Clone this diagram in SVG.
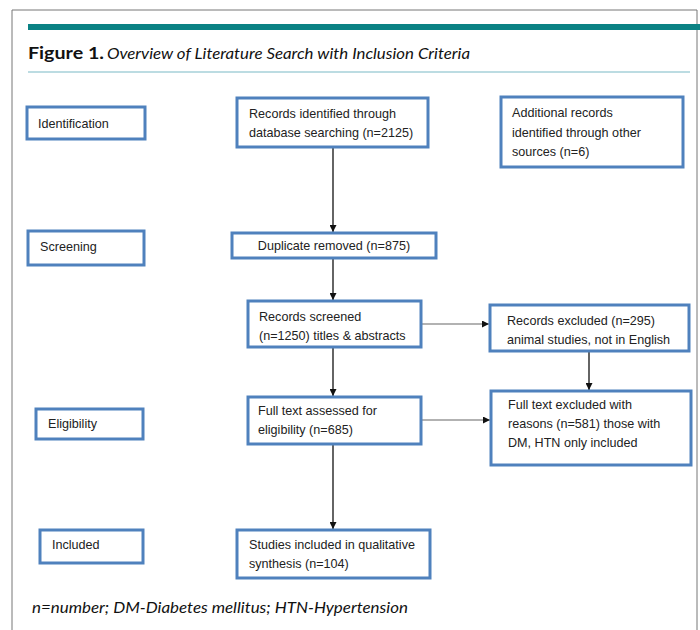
<svg xmlns="http://www.w3.org/2000/svg" width="700" height="630" viewBox="0 0 700 630">
<style>
.box{fill:#fff;stroke:#4f81bd;stroke-width:3}
.t{font-family:"Liberation Sans",Arial,sans-serif;font-size:12.6px;fill:#222}
.c{stroke:#111;stroke-width:1.3;fill:none}
.g{stroke:#666;stroke-width:1.2;fill:none}
</style>
<defs>
<marker id="ah" viewBox="0 0 10 10" refX="10" refY="5" markerWidth="7" markerHeight="7" orient="auto" markerUnits="userSpaceOnUse">
<path d="M0,0 L10,5 L0,10 z" fill="#111"/>
</marker>
</defs>
<rect x="0" y="0" width="700" height="630" fill="#fff"/>
<path d="M12,630 V10 H697 V630" fill="none" stroke="#777" stroke-width="1"/>
<rect x="28" y="24" width="672" height="6" fill="#0b8284"/>
<text x="28" y="59" font-family="Lato,'Open Sans',sans-serif" font-size="17.5" font-weight="bold" fill="#111" textLength="76" lengthAdjust="spacingAndGlyphs">Figure 1.</text>
<text x="107" y="59" font-family="Lato,'Open Sans',sans-serif" font-size="16" font-style="italic" fill="#111" textLength="363" lengthAdjust="spacingAndGlyphs">Overview of Literature Search with Inclusion Criteria</text>
<rect x="28" y="71" width="662" height="2" fill="#bcdce2"/>

<g id="connectors">
<line class="c" x1="333" y1="147" x2="333" y2="232" marker-end="url(#ah)"/>
<line class="c" x1="333" y1="258" x2="333" y2="300" marker-end="url(#ah)"/>
<line class="c" x1="333" y1="347" x2="333" y2="396" marker-end="url(#ah)"/>
<line class="c" x1="333" y1="444" x2="333" y2="529" marker-end="url(#ah)"/>
<line class="g" x1="421" y1="324" x2="489" y2="324" marker-end="url(#ah)"/>
<line class="g" x1="421" y1="420" x2="490" y2="420" marker-end="url(#ah)"/>
<line class="c" x1="589" y1="351" x2="589" y2="390" marker-end="url(#ah)"/>
</g>

<g id="identification"><rect class="box" x="27" y="107" width="118" height="32"/><text class="t" x="38" y="128">Identification</text></g>
<g id="records-identified"><rect class="box" x="237" y="98" width="191" height="49"/><text class="t" x="249" y="118">Records identified through</text><text class="t" x="249" y="137">database searching (n=2125)</text></g>
<g id="additional-records"><rect class="box" x="501" y="97" width="182" height="70"/><text class="t" x="512" y="117">Additional records</text><text class="t" x="512" y="137">identified through other</text><text class="t" x="512" y="156">sources (n=6)</text></g>
<g id="screening"><rect class="box" x="28" y="231" width="116" height="34"/><text class="t" x="40" y="251">Screening</text></g>
<g id="duplicate-removed"><rect class="box" x="232" y="233" width="204" height="25"/><text class="t" x="334" y="250" text-anchor="middle">Duplicate removed (n=875)</text></g>
<g id="records-screened"><rect class="box" x="248" y="301" width="173" height="46"/><text class="t" x="259" y="321">Records screened</text><text class="t" x="259" y="340">(n=1250) titles &amp; abstracts</text></g>
<g id="records-excluded"><rect class="box" x="490" y="305" width="199" height="46"/><text class="t" x="507" y="325">Records excluded (n=295)</text><text class="t" x="507" y="344">animal studies, not in English</text></g>
<g id="eligibility"><rect class="box" x="36" y="409" width="107" height="30"/><text class="t" x="48" y="428">Eligibility</text></g>
<g id="full-text-assessed"><rect class="box" x="248" y="397" width="173" height="47"/><text class="t" x="258" y="415">Full text assessed for</text><text class="t" x="258" y="434">eligibility (n=685)</text></g>
<g id="full-text-excluded"><rect class="box" x="491" y="391" width="200" height="74"/><text class="t" x="508" y="409">Full text excluded with</text><text class="t" x="508" y="428">reasons (n=581) those with</text><text class="t" x="508" y="447">DM, HTN only included</text></g>
<g id="included"><rect class="box" x="40" y="530" width="103" height="33"/><text class="t" x="52" y="549">Included</text></g>
<g id="studies-included"><rect class="box" x="237" y="530" width="193" height="48"/><text class="t" x="249" y="549">Studies included in qualitative</text><text class="t" x="249" y="568">synthesis (n=104)</text></g>

<text x="32" y="613" font-family="Lato,'Open Sans',sans-serif" font-size="15" font-style="italic" fill="#111" textLength="376" lengthAdjust="spacingAndGlyphs">n=number; DM-Diabetes mellitus; HTN-Hypertension</text>
</svg>
